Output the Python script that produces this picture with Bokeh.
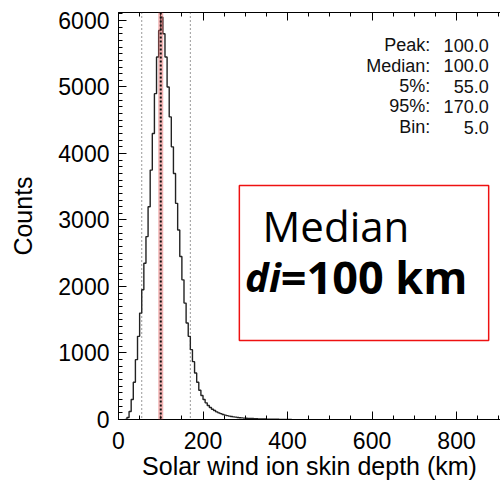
from bokeh.plotting import figure
from bokeh.models import (Range1d, LinearAxis, SingleIntervalTicker, Span,
                          Label, BoxAnnotation)
from bokeh.embed import file_html
from bokeh.resources import INLINE

# ---- data ----
bin_width = 5.0
bin_start = [15, 20, 25, 30, 35, 40, 45, 50, 55, 60, 65, 70, 75, 80, 85, 90,
             95, 100, 105, 110, 115, 120, 125, 130, 135, 140, 145, 150, 155,
             160, 165, 170, 175, 180, 185, 190, 195, 200, 205, 210, 215, 220,
             225, 230, 235, 240, 245, 250, 255, 260, 265, 270, 275, 280, 285,
             290, 295, 300, 305, 310, 315, 320, 325, 330, 335, 340, 345, 350,
             355, 360, 365, 370, 375, 380, 385, 390, 395, 400, 405]
counts = [0, 30, 120, 300, 560, 900, 1250, 1600, 1950, 2350, 2750, 3200,
          3750, 4300, 4900, 5450, 5850, 6050, 5800, 5450, 5000, 4550, 4100,
          3700, 3250, 2850, 2450, 2100, 1750, 1450, 1250, 1050, 870, 700,
          560, 440, 360, 300, 250, 210, 180, 155, 135, 115, 100, 88, 76, 66,
          58, 51, 45, 40, 35, 31, 27, 24, 21, 19, 17, 15, 14, 12, 11, 10, 9,
          8, 7, 6, 5, 4, 4, 3, 3, 2, 2, 2, 1, 1, 0]

stat_labels = ["Peak:", "Median:", "5%:", "95%:", "Bin:"]
peak_val = 100.0
median_val = 100.0
p5_val = 55.0
p95_val = 170.0
stat_values = [peak_val, median_val, p5_val, p95_val, bin_width]

x_ticks_interval = 200
y_ticks_interval = 1000

FONT = "Liberation Sans"

p = figure(width=500, height=484, output_backend="svg", toolbar_location=None,
           x_range=Range1d(0, 904), y_range=Range1d(0, 6120),
           min_border_left=118, min_border_right=0, min_border_top=12,
           min_border_bottom=65, x_axis_location="below")
p.outline_line_color = None
p.grid.visible = False
p.background_fill_color = "white"
p.border_fill_color = "white"

# histogram as a step line
xs = list(bin_start) + [bin_start[-1] + bin_width]
ys = list(counts) + [0]
p.step(x=xs, y=ys, mode="after", line_color="#222222", line_width=1.4)

# vertical reference lines
p.add_layout(Span(location=median_val, dimension="height",
                  line_color="#e86a6a", line_alpha=0.5, line_width=5))
p.add_layout(Span(location=median_val, dimension="height",
                  line_color="#111111", line_width=2, line_dash="2 2"))
for loc in (p5_val, p95_val):
    p.add_layout(Span(location=loc, dimension="height", line_color="#333333",
                      line_width=1, line_dash="1 3"))

# axes styling
def style_axis(ax, labels=True):
    ax.axis_line_color = "black"
    ax.axis_line_width = 1
    ax.major_tick_line_color = "black"
    ax.minor_tick_line_color = "black"
    ax.major_tick_in = 8
    ax.major_tick_out = 0
    ax.minor_tick_in = 4
    ax.minor_tick_out = 0
    ax.major_label_text_font = FONT
    ax.major_label_text_font_size = "23px"
    ax.major_label_text_color = "black" if labels else None
    ax.axis_label_text_font = FONT
    ax.axis_label_text_font_style = "normal"
    ax.axis_label_text_font_size = "25px"
    ax.axis_label_text_color = "black"

p.xaxis.ticker = SingleIntervalTicker(interval=x_ticks_interval, num_minor_ticks=4)
p.yaxis.ticker = SingleIntervalTicker(interval=y_ticks_interval, num_minor_ticks=10)
style_axis(p.xaxis[0])
style_axis(p.yaxis[0])
p.xaxis.axis_label = "Solar wind ion skin depth (km)"
p.yaxis.axis_label = "Counts"
p.xaxis.major_label_standoff = 12
p.xaxis.axis_label_standoff = 0
p.yaxis.major_label_standoff = 9
p.yaxis.axis_label_standoff = 18

top = LinearAxis(ticker=SingleIntervalTicker(interval=x_ticks_interval, num_minor_ticks=4))
style_axis(top, labels=False)
top.major_label_text_font_size = "0px"
p.add_layout(top, "above")

# statistics text block
row_y = [5624, 5323, 5008, 4707, 4391]
for lab, val, yy in zip(stat_labels, stat_values, row_y):
    p.add_layout(Label(x=738, y=yy, text=lab, text_align="right",
                       text_baseline="middle", text_font=FONT,
                       text_font_size="18px", text_color="#111111"))
    p.add_layout(Label(x=876, y=yy, text=f"{val:.1f}", text_align="right",
                       text_baseline="middle", text_font=FONT,
                       text_font_size="18px", text_color="#111111"))

# red annotation box
p.add_layout(BoxAnnotation(left=286, right=876, bottom=1188, top=3519,
                           fill_color="white", fill_alpha=1.0,
                           line_color="#ee1111", line_width=1.5,
                           line_alpha=1.0))
p.add_layout(Label(x=341, y=2917, text="Median", text_align="left",
                   text_baseline="middle", text_font="Open Sans",
                   text_font_size="42px", text_color="black"))
p.add_layout(Label(x=384, y=2150, text="di", text_align="right",
                   text_baseline="middle", text_font="Open Sans",
                   text_font_style="bold italic",
                   text_font_size="40px", text_color="black"))
p.add_layout(Label(x=384, y=2150, text="=100 km", text_align="left",
                   text_baseline="middle", text_font="Open Sans",
                   text_font_style="bold",
                   text_font_size="45px", text_color="black"))

open("out.html", "w").write(file_html(p, INLINE))
